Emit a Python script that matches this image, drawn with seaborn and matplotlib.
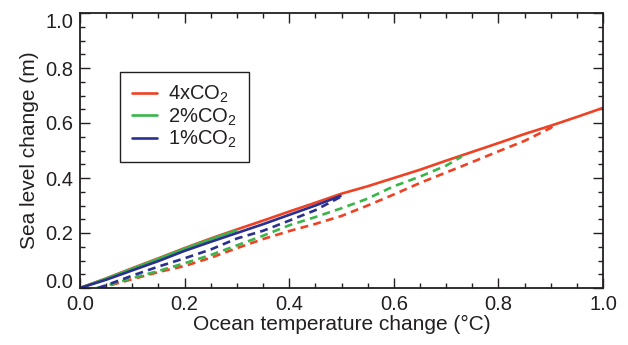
import matplotlib
matplotlib.use("Agg")
import matplotlib.pyplot as plt
from matplotlib.lines import Line2D
from matplotlib.ticker import MultipleLocator
import seaborn as sns
import pandas as pd

# ---- data ----
scenarios = ["4xCO$_2$", "2%CO$_2$", "1%CO$_2$"]
colors = ["#EF4123", "#39B54A", "#2B2F8F"]

x_4x_solid = [0, 0.05, 0.1, 0.15, 0.2, 0.25, 0.3, 0.35, 0.4, 0.45, 0.5, 0.55, 0.6,
              0.65, 0.7, 0.75, 0.8, 0.85, 0.9, 0.95, 1.0]
y_4x_solid = [0, 0.035, 0.072, 0.108, 0.145, 0.18, 0.213, 0.245, 0.278, 0.31, 0.343,
              0.37, 0.4, 0.43, 0.463, 0.495, 0.527, 0.56, 0.59, 0.622, 0.655]

x_2p_solid = [0, 0.05, 0.1, 0.15, 0.2, 0.25, 0.3]
y_2p_solid = [0, 0.034, 0.07, 0.106, 0.143, 0.177, 0.21]

x_1p_solid = [0, 0.05, 0.1, 0.15, 0.2, 0.25, 0.3, 0.35, 0.4, 0.45, 0.5]
y_1p_solid = [0, 0.03, 0.064, 0.098, 0.135, 0.168, 0.2, 0.232, 0.266, 0.3, 0.336]

x_4x_dash = [0.035, 0.05, 0.1, 0.15, 0.2, 0.25, 0.3, 0.35, 0.4, 0.45, 0.5, 0.55, 0.6,
             0.65, 0.7, 0.75, 0.8, 0.85, 0.9, 0.91]
y_4x_dash = [0, 0.006, 0.032, 0.058, 0.08, 0.11, 0.145, 0.178, 0.207, 0.233, 0.262,
             0.3, 0.34, 0.382, 0.42, 0.458, 0.497, 0.535, 0.582, 0.598]

x_2p_dash = [0.032, 0.05, 0.1, 0.15, 0.2, 0.25, 0.3, 0.35, 0.4, 0.45, 0.5, 0.55, 0.6,
             0.65, 0.7, 0.73]
y_2p_dash = [0, 0.008, 0.036, 0.062, 0.09, 0.12, 0.155, 0.19, 0.228, 0.258, 0.29,
             0.325, 0.37, 0.405, 0.445, 0.478]

x_1p_dash = [0.035, 0.05, 0.1, 0.15, 0.2, 0.25, 0.3, 0.35, 0.4, 0.45, 0.5]
y_1p_dash = [0, 0.01, 0.045, 0.078, 0.108, 0.14, 0.18, 0.208, 0.245, 0.283, 0.333]

x_ticks = [0.0, 0.2, 0.4, 0.6, 0.8, 1.0]
y_ticks = [0.0, 0.2, 0.4, 0.6, 0.8, 1.0]
x_label = "Ocean temperature change (°C)"
y_label = "Sea level change (m)"

# ---- style ----
sns.set_theme(style="ticks")
ink = "#231F20"
plt.rcParams.update({
    "font.family": ["Liberation Sans", "DejaVu Sans"],
    "mathtext.default": "regular",
    "axes.edgecolor": ink,
    "axes.labelcolor": ink,
    "xtick.color": ink,
    "ytick.color": ink,
    "text.color": ink,
    "axes.linewidth": 1.3,
})

fig = plt.figure(figsize=(6.28, 3.45), dpi=100)
ax = fig.add_axes([80 / 628, 57 / 345, 523 / 628, 275 / 345])

series = [
    (x_4x_solid, y_4x_solid, 0, "solid"),
    (x_4x_dash, y_4x_dash, 0, "dash"),
    (x_2p_dash, y_2p_dash, 1, "dash"),
    (x_1p_dash, y_1p_dash, 2, "dash"),
    (x_2p_solid, y_2p_solid, 1, "solid"),
    (x_1p_solid, y_1p_solid, 2, "solid"),
]
lw = 1.9
for xs, ys, ci, kind in series:
    df = pd.DataFrame({"t": xs, "s": ys})
    sns.lineplot(data=df, x="t", y="s", ax=ax, color=colors[ci], lw=lw,
                 estimator=None, sort=False, legend=False,
                 dashes=False)
    line = ax.get_lines()[-1]
    if kind == "dash":
        line.set_dashes((3.0, 2.0))
    line.set_solid_capstyle("butt")

ax.set_xlim(0, 1)
ax.set_ylim(0, 1)
ax.set_xticks(x_ticks)
ax.set_yticks(y_ticks)
ax.set_xticklabels([f"{v:.1f}" for v in x_ticks])
ax.set_yticklabels([f"{v:.1f}" for v in y_ticks])
ax.xaxis.set_minor_locator(MultipleLocator(0.05))
ax.yaxis.set_minor_locator(MultipleLocator(0.05))
ax.tick_params(which="both", direction="in", top=True, right=True,
               labelsize=14.5, pad=5)
ax.tick_params(which="major", length=7, width=1.0)
ax.tick_params(which="minor", length=3.5, width=1.0)

ylabs = ax.get_yticklabels()
ylabs[0].set_va("baseline")
ylabs[-1].set_va("top")

ax.set_xlabel(x_label, fontsize=15, labelpad=1)
ax.set_ylabel(y_label, fontsize=15, labelpad=4)

for sp in ax.spines.values():
    sp.set_visible(True)

handles = [Line2D([0], [0], color=c, lw=lw) for c in colors]
leg = ax.legend(handles, scenarios, loc="upper left",
                bbox_to_anchor=(40 / 523, (288 - 72) / 275), borderaxespad=0,
                fontsize=14.5, frameon=True, fancybox=False, shadow=False,
                handlelength=1.25, handletextpad=0.55, labelspacing=0.05,
                borderpad=0.6)
leg.get_frame().set_edgecolor(ink)
leg.get_frame().set_linewidth(1.0)
leg.get_frame().set_alpha(1)

fig.savefig("out.png", dpi=100)
